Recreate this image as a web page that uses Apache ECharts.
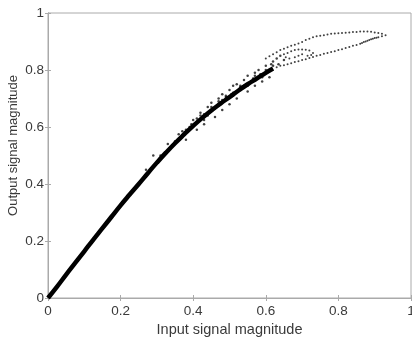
<!DOCTYPE html>
<html><head><meta charset="utf-8">
<script src="https://cdn.jsdelivr.net/npm/echarts@6/dist/echarts.min.js"></script>
<style>html,body{margin:0;padding:0;background:#fff}#c{width:412px;height:338px}</style>
</head><body><div id="c"></div>
<script>
const xTicks = [0, 0.2, 0.4, 0.6, 0.8, 1];
const yTicks = [0, 0.2, 0.4, 0.6, 0.8, 1];
const xName = 'Input signal magnitude';
const yName = 'Output signal magnitude';

// dense core band (centre of the point cloud)
const coreIn  = [0,0.025,0.05,0.075,0.1,0.125,0.15,0.175,0.2,0.225,0.25,0.275,0.3,0.325,0.35,0.375,0.4,0.425,0.45,0.475,0.5,0.525,0.55,0.575,0.6,0.62];
const coreOut = [0,0.04,0.082,0.123,0.164,0.205,0.245,0.285,0.325,0.363,0.4,0.438,0.475,0.51,0.543,0.574,0.604,0.632,0.658,0.682,0.705,0.728,0.75,0.77,0.79,0.805];

// scattered samples around the band
const spreadIn  = [0.29,0.33,0.36,0.38,0.40,0.42,0.44,0.45,0.47,0.48,0.50,0.51,0.52,0.54,0.55,0.57,0.58,0.60,0.62,0.63,0.64,
                   0.38,0.41,0.43,0.46,0.48,0.50,0.52,0.55,0.57,0.59,0.61,0.53,0.56,0.49,0.44,
                   0.39,0.41,0.43,0.45,0.46,0.47,0.49,0.51,0.53,0.54,0.56,0.58,0.59,0.61,0.43,0.47,0.51,0.55,0.59,0.57,0.60,0.62,0.635,0.65,
                   0.42,0.45,0.48,0.505,0.53,0.565,0.585,0.605,0.615,0.37,0.395,0.35,0.31,0.27];
const spreadOut = [0.50,0.54,0.575,0.59,0.625,0.65,0.67,0.685,0.70,0.715,0.73,0.745,0.75,0.765,0.78,0.79,0.80,0.815,0.83,0.84,0.85,
                   0.555,0.59,0.61,0.635,0.66,0.68,0.70,0.725,0.745,0.76,0.775,0.74,0.76,0.71,0.64,
                   0.60,0.63,0.645,0.67,0.665,0.69,0.705,0.72,0.735,0.745,0.76,0.775,0.785,0.80,0.625,0.675,0.71,0.745,0.775,0.78,0.80,0.815,0.82,0.835,
                   0.64,0.66,0.695,0.715,0.745,0.77,0.785,0.795,0.82,0.585,0.61,0.55,0.50,0.45];

// upper arc (outer loop)
const upperIn  = [0.60,0.61,0.62,0.63,0.64,0.65,0.66,0.67,0.68,0.69,0.70,0.71,0.72,0.73,0.74,0.75,0.76,0.77,0.78,0.79,0.80,0.81,0.82,0.83,0.84,0.85,0.86,0.87,0.88,0.89,0.90,0.91,0.92,0.93];
const upperOut = [0.84,0.848,0.855,0.862,0.87,0.875,0.88,0.885,0.889,0.893,0.898,0.905,0.91,0.915,0.918,0.92,0.922,0.925,0.927,0.928,0.929,0.93,0.931,0.932,0.933,0.933,0.935,0.935,0.935,0.934,0.932,0.93,0.927,0.922];

// middle loop
const midIn  = [0.65,0.66,0.67,0.68,0.69,0.70,0.71,0.72,0.73,0.725,0.715,0.70,0.69,0.68,0.665,0.655];
const midOut = [0.855,0.86,0.866,0.87,0.872,0.872,0.871,0.868,0.86,0.853,0.85,0.855,0.85,0.845,0.84,0.845];

// lower arc
const lowerIn  = [0.63,0.64,0.65,0.66,0.67,0.68,0.69,0.70,0.71,0.72,0.73,0.74,0.75,0.76,0.77,0.78,0.79,0.80,0.81,0.82,0.83,0.84,0.85,0.86,0.865,0.87,0.875,0.88,0.885,0.89,0.895,0.90,0.905,0.91,0.92];
const lowerOut = [0.81,0.815,0.817,0.82,0.824,0.828,0.831,0.835,0.838,0.842,0.846,0.85,0.853,0.857,0.86,0.863,0.866,0.87,0.873,0.877,0.881,0.885,0.888,0.892,0.895,0.898,0.9,0.903,0.905,0.908,0.91,0.912,0.913,0.915,0.918];

const zip = (a, b) => a.map((v, i) => [v, b[i]]);
const dotColor = '#111';
const lab = {color:'#3a3a3a', fontFamily:'Liberation Sans, Arial', fontSize:13.5};
const nameStyle = {color:'#3a3a3a', fontFamily:'Liberation Sans, Arial', fontSize:14.5};

const chart = echarts.init(document.getElementById('c'));
chart.setOption({
  animation:false,
  grid:{left:48, right:1, top:13, bottom:40, containLabel:false, outerBoundsMode:'none',
        show:true, borderColor:'#aaa', borderWidth:1},
  xAxis:[{
    type:'value', min:0, max:1, interval:0.2,
    name:xName, nameLocation:'middle', nameGap:20, nameTextStyle:nameStyle,
    axisLine:{show:true, lineStyle:{color:'#aaa'}},
    axisTick:{show:true, inside:true, length:3, lineStyle:{color:'#aaa'}},
    axisLabel:{...lab, margin:6, formatter:v => xTicks.includes(v) ? String(v) : ''},
    splitLine:{show:false}
  },{
    type:'value', min:0, max:1, interval:0.2, position:'top',
    axisLine:{show:true, lineStyle:{color:'#aaa'}},
    axisTick:{show:true, inside:true, length:3, lineStyle:{color:'#aaa'}},
    axisLabel:{show:false}, splitLine:{show:false}
  }],
  yAxis:[{
    type:'value', min:0, max:1, interval:0.2,
    name:yName, nameLocation:'middle', nameGap:28, nameMoveOverlap:false,
    nameTextStyle:{...nameStyle, fontSize:13, padding:[0,0,0,20]},
    axisLine:{show:true, lineStyle:{color:'#aaa'}},
    axisTick:{show:true, inside:true, length:3, lineStyle:{color:'#aaa'}},
    axisLabel:{...lab, margin:4, formatter:v => yTicks.includes(v) ? String(v) : ''},
    splitLine:{show:false}
  },{
    type:'value', min:0, max:1, interval:0.2, position:'right',
    axisLine:{show:true, lineStyle:{color:'#aaa'}},
    axisTick:{show:true, inside:true, length:3, lineStyle:{color:'#aaa'}},
    axisLabel:{show:false}, splitLine:{show:false}
  }],
  series:[
    {type:'line', data:zip(coreIn, coreOut), showSymbol:false, smooth:true,
     lineStyle:{color:'#000', width:4.5}},
    {type:'scatter', data:zip(spreadIn, spreadOut), symbolSize:2.5, itemStyle:{color:dotColor}},
    {type:'scatter', data:zip(upperIn, upperOut), symbolSize:2, itemStyle:{color:dotColor}},
    {type:'scatter', data:zip(midIn, midOut), symbolSize:2, itemStyle:{color:dotColor}},
    {type:'scatter', data:zip(lowerIn, lowerOut), symbolSize:2, itemStyle:{color:dotColor}}
  ]
});
</script></body></html>
